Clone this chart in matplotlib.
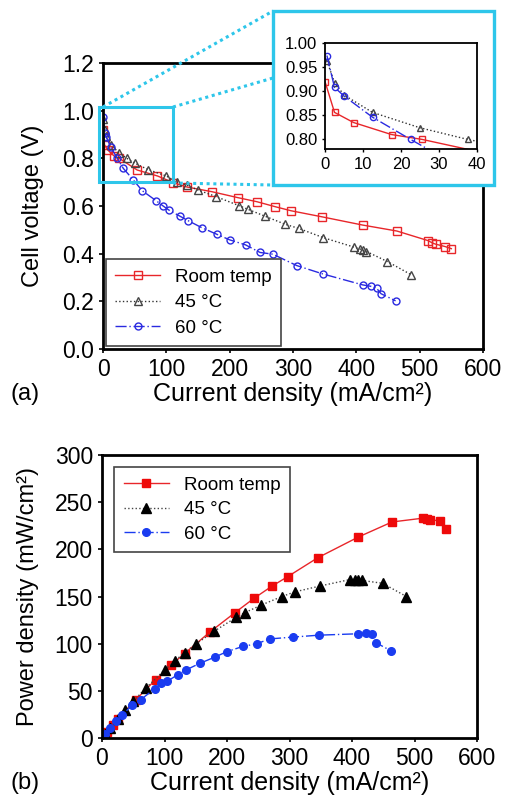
import matplotlib
matplotlib.use('Agg')
import matplotlib.pyplot as plt
from matplotlib.lines import Line2D
from matplotlib.patches import Rectangle

plt.rcParams['font.family'] = ['Liberation Sans', 'DejaVu Sans']

# Room temperature
i_rt = [0, 2.5, 7.5, 17.5, 25.5, 54, 86, 111, 132, 172, 213, 243, 272, 297, 345,
        410, 464, 513, 520, 525, 540, 550]
v_rt = [0.92, 0.856, 0.835, 0.81, 0.80, 0.751, 0.726, 0.698, 0.68, 0.66, 0.635, 0.618,
        0.597, 0.58, 0.555, 0.52, 0.495, 0.455, 0.445, 0.44, 0.43, 0.421]
p_rt = [0, 2.2, 6.3, 14.2, 20.4, 40.5, 62, 77.5, 89.5, 112, 133, 148, 161, 171, 191,
        213, 229, 233, 232, 231, 230.5, 222]

# 45 C
i_45 = [0.5, 2.5, 5, 12.5, 25, 37.5, 50, 71, 100, 117, 132, 150, 179, 215, 229, 255,
        288, 309, 348, 397, 405, 410, 416, 449, 487]
v_45 = [0.963, 0.918, 0.892, 0.856, 0.824, 0.80, 0.78, 0.753, 0.726, 0.70, 0.688, 0.667,
        0.639, 0.601, 0.586, 0.558, 0.523, 0.506, 0.467, 0.427, 0.42, 0.416, 0.409, 0.367, 0.311]
p_45 = [0.5, 2.3, 4.5, 10.7, 20.6, 30, 39, 53.5, 72, 82, 90.5, 99.5, 113, 128, 133, 141,
        150, 155, 161, 168, 168, 168, 167, 164, 150]

# 60 C
i_60 = [0.5, 2.5, 5, 12.5, 22.5, 32, 48, 62, 84, 95, 104, 121, 134, 156, 180, 200, 225,
        248, 268, 306, 347, 410, 423, 432, 439, 462]
v_60 = [0.974, 0.908, 0.89, 0.846, 0.80, 0.758, 0.709, 0.664, 0.622, 0.60, 0.583, 0.558,
        0.539, 0.509, 0.481, 0.458, 0.437, 0.405, 0.398, 0.350, 0.315, 0.269, 0.263, 0.255,
        0.232, 0.202]
p_60 = [0.5, 2.3, 4.5, 10.6, 18, 24, 34.7, 40.7, 52, 58, 60, 67, 72, 79, 85.6, 91.6, 97,
        100, 105, 107, 109, 110.5, 111, 110, 100.7, 92.6]

labels = ['Room temp', '45 \u00b0C', '60 \u00b0C']

RED = '#e8262a'
BLUE = '#2a2ae0'
CYAN = '#2ec6ea'
W, H = 505, 801

fig = plt.figure(figsize=(5.05, 8.01), dpi=100)

def fx(px):
    return px / W

def fy(py):
    return 1 - py / H

# ---- panel (a)
ax1 = fig.add_axes([fx(103), fy(349), fx(483 - 103), (349 - 63) / H])
ax1.plot(i_rt, v_rt, '-', color=RED, lw=1, marker='s', ms=5.5, mfc='none', mec=RED, mew=1,
         label=labels[0])
ax1.plot(i_45, v_45, ':', color='#333333', lw=1, marker='^', ms=6, mfc='none', mec='#444444',
         mew=1, label=labels[1])
ax1.plot(i_60, v_60, '-.', color=BLUE, lw=1, marker='o', ms=5, mfc='none', mec=BLUE, mew=1,
         dashes=(8, 2, 1, 2), label=labels[2])
ax1.set_xlim(0, 600)
ax1.set_ylim(0, 1.2)
ax1.set_xticks(range(0, 601, 100))
ax1.set_yticks([0, 0.2, 0.4, 0.6, 0.8, 1.0, 1.2])
ax1.set_yticklabels(['0.0', '0.2', '0.4', '0.6', '0.8', '1.0', '1.2'])
ax1.tick_params(labelsize=16.5, direction='out', length=3, width=1.2)
ax1.set_xlabel('Current density (mA/cm\u00b2)', fontsize=18, labelpad=1)
ax1.set_ylabel('Cell voltage (V)', fontsize=17, labelpad=13)
for s in ax1.spines.values():
    s.set_linewidth(2)
leg = ax1.legend(loc='lower left', fontsize=13.5, fancybox=False, edgecolor='#444444',
                 framealpha=1, borderaxespad=0.15, handlelength=2.4, labelspacing=0.45,
                 borderpad=0.5)
leg.get_frame().set_linewidth(1.2)

# small zoom box on panel (a)
ax1.add_patch(Rectangle((-6.3, 0.70), 117, 0.315, fill=False, ec=CYAN, lw=2.2, clip_on=False,
                        zorder=5))

# big cyan frame + dotted connectors
fig.add_artist(Rectangle((fx(273), fy(185)), fx(494 - 273), (185 - 11) / H, fc='white',
                         ec=CYAN, lw=2.4, zorder=1))
for (x0, y0), (x1, y1) in [((103, 107), (273, 11)), ((173, 107), (273, 78)),
                           ((173, 183), (273, 185))]:
    fig.add_artist(Line2D([fx(x0), fx(x1)], [fy(y0), fy(y1)], color=CYAN, lw=2.2,
                          ls=(0, (1, 1.2)), zorder=1))

# inset
axi = fig.add_axes([fx(325), fy(149), fx(477 - 325), (149 - 43) / H], zorder=2)
axi.plot(i_rt, v_rt, '-', color=RED, lw=1, marker='s', ms=5, mfc='none', mec=RED, mew=1)
axi.plot(i_45, v_45, ':', color='#333333', lw=1, marker='^', ms=5, mfc='none', mec='#444444',
         mew=1)
axi.plot(i_60, v_60, '-.', color=BLUE, lw=1, marker='o', ms=4.5, mfc='none', mec=BLUE, mew=1,
         dashes=(8, 2, 1, 2))
axi.set_xlim(0, 40)
axi.set_ylim(0.78, 1.0)
axi.set_xticks([0, 10, 20, 30, 40])
axi.set_yticks([0.80, 0.85, 0.90, 0.95, 1.00])
axi.set_yticklabels(['0.80', '0.85', '0.90', '0.95', '1.00'])
axi.tick_params(labelsize=12, direction='out', length=2, width=1)
for s in axi.spines.values():
    s.set_linewidth(1.3)

fig.text(fx(10), fy(394), '(a)', fontsize=17, va='center')

# ---- panel (b)
ax2 = fig.add_axes([fx(102), fy(738), fx(477 - 102), (738 - 455) / H])
ax2.plot(i_rt, p_rt, '-', color=RED, lw=1, marker='s', ms=6, mfc='#ee0a0a', mec='#ee0a0a',
         label=labels[0])
ax2.plot(i_45, p_45, ':', color='#444444', lw=1, marker='^', ms=6.5, mfc='black', mec='black',
         label=labels[1])
ax2.plot(i_60, p_60, '-.', color='#1a3cf0', lw=1, marker='o', ms=5.5, mfc='#1a3cf0',
         mec='#1a3cf0', dashes=(8, 2, 1, 2), label=labels[2])
ax2.set_xlim(0, 600)
ax2.set_ylim(0, 300)
ax2.set_xticks(range(0, 601, 100))
ax2.set_yticks(range(0, 301, 50))
ax2.tick_params(labelsize=16.5, direction='out', length=3, width=1.2)
ax2.set_xlabel('Current density (mA/cm\u00b2)', fontsize=18, labelpad=1)
ax2.set_ylabel('Power density (mW/cm\u00b2)', fontsize=17, labelpad=11)
for s in ax2.spines.values():
    s.set_linewidth(2)
leg2 = ax2.legend(loc='upper left', fontsize=13.5, fancybox=False, edgecolor='#444444',
                  framealpha=1, borderaxespad=0.65, handlelength=2.4, labelspacing=0.4,
                  borderpad=0.5)
leg2.get_frame().set_linewidth(1.2)

fig.text(fx(10), fy(783), '(b)', fontsize=17, va='center')

fig.savefig('out.png', dpi=100)
